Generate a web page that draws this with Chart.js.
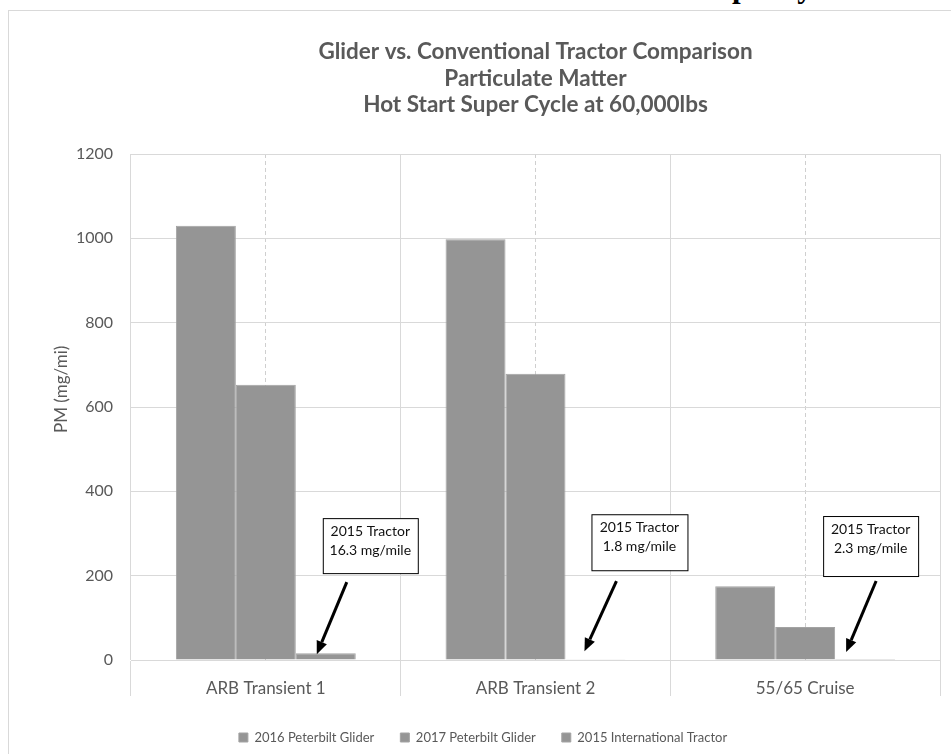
<!DOCTYPE html>
<html>
<head>
<meta charset="utf-8">
<title>Glider vs. Conventional Tractor - PM</title>
<script src="https://cdn.jsdelivr.net/npm/chart.js@4.4.0/dist/chart.umd.min.js"></script>
<style>
  html, body { margin: 0; padding: 0; background: #fff; overflow: hidden; }
  #wrap { position: relative; width: 951px; height: 754px; overflow: hidden; }
  #frame { position: absolute; left: 8px; top: 10px; width: 960px; height: 760px; border: 1px solid #d9d9d9; box-sizing: border-box; }
  #cut { position: absolute; left: 0; top: -30px; }
  canvas { position: absolute; left: 0; top: 0; }
</style>
</head>
<body>
<div id="wrap">
  <svg id="cut" width="951" height="40"><text x="694" y="27" font-family="Liberation Serif" font-weight="bold" font-size="31" fill="#000">Capacity</text></svg>
  <div id="frame"></div>
  <canvas id="pm-chart" width="951" height="754"></canvas>
</div>
<script>
// data
const categories = ['ARB Transient 1', 'ARB Transient 2', '55/65 Cruise'];
const seriesNames = ['2016 Peterbilt Glider', '2017 Peterbilt Glider', '2015 International Tractor'];
const glider2016 = [1030, 998, 175];
const glider2017 = [653, 679, 78];
const tractor2015 = [16.3, 1.8, 2.3];
const yTicks = [0, 200, 400, 600, 800, 1000, 1200];
const titleLines = [
  'Glider vs. Conventional Tractor Comparison',
  'Particulate Matter',
  'Hot Start Super Cycle at 60,000lbs'
];
const yTitle = 'PM (mg/mi)';
const noteTitle = '2015 Tractor';

// where each callout sits, relative to the top of the 2015 tractor bar
const noteLayout = [
  { box: [-3, -135, 95, 55], from: [21, -71], to: [-9, 1] },
  { box: [-4, -145, 96, 56], from: [21, -78], to: [-11, -8] },
  { box: [-42, -143, 95, 60], from: [11, -78], to: [-19, -7] }
];

const gray = '#959595';
const textGray = '#595959';
const gridGray = '#d9d9d9';

Chart.defaults.font.family = 'Lato';

// title centred over the plot area, plus the y axis title
const titlePlugin = {
  id: 'pmTitle',
  afterDraw(chart) {
    const ctx = chart.ctx;
    const a = chart.chartArea;
    ctx.save();
    ctx.font = 'bold 22.5px Lato';
    ctx.fillStyle = textGray;
    ctx.textAlign = 'center';
    ctx.textBaseline = 'alphabetic';
    titleLines.forEach((t, i) => ctx.fillText(t, (a.left + a.right) / 2, 59 + i * 26.5));

    ctx.font = '17px Lato';
    ctx.textBaseline = 'middle';
    ctx.translate(62, a.top + (a.bottom - a.top) * 0.465);
    ctx.rotate(-Math.PI / 2);
    ctx.fillText(yTitle, 0, 0);
    ctx.restore();
  }
};

// callout boxes with arrows
const notePlugin = {
  id: 'pmNotes',
  afterDatasetsDraw(chart) {
    const ctx = chart.ctx;
    const meta = chart.getDatasetMeta(2);
    ctx.save();
    meta.data.forEach((el, i) => {
      const n = noteLayout[i];
      const bx = el.x + n.box[0], by = el.y + n.box[1];
      ctx.fillStyle = '#fff';
      ctx.fillRect(bx, by, n.box[2], n.box[3]);
      ctx.strokeStyle = '#000';
      ctx.lineWidth = 1;
      ctx.strokeRect(bx + 0.5, by + 0.5, n.box[2], n.box[3]);
      ctx.fillStyle = '#111';
      ctx.font = '14px Lato';
      ctx.textAlign = 'center';
      ctx.textBaseline = 'alphabetic';
      ctx.fillText(noteTitle, bx + n.box[2] / 2, by + 18);
      ctx.fillText(tractor2015[i] + ' mg/mile', bx + n.box[2] / 2, by + 37);

      // arrow
      const x1 = el.x + n.from[0], y1 = el.y + n.from[1];
      const x2 = el.x + n.to[0], y2 = el.y + n.to[1];
      const ang = Math.atan2(y2 - y1, x2 - x1);
      const head = 13, half = 5.5;
      const hx = x2 - head * Math.cos(ang), hy = y2 - head * Math.sin(ang);
      ctx.strokeStyle = '#000';
      ctx.lineWidth = 3;
      ctx.beginPath();
      ctx.moveTo(x1, y1);
      ctx.lineTo(hx, hy);
      ctx.stroke();
      ctx.fillStyle = '#000';
      ctx.beginPath();
      ctx.moveTo(x2, y2);
      ctx.lineTo(hx + half * Math.sin(ang), hy - half * Math.cos(ang));
      ctx.lineTo(hx - half * Math.sin(ang), hy + half * Math.cos(ang));
      ctx.closePath();
      ctx.fill();
    });
    ctx.restore();
  }
};

const seriesValues = [glider2016, glider2017, tractor2015];

new Chart(document.getElementById('pm-chart'), {
  type: 'bar',
  data: {
    labels: categories,
    datasets: seriesNames.map((name, i) => ({
      label: name,
      data: seriesValues[i],
      backgroundColor: gray,
      borderColor: '#a3a3a3',
      borderWidth: 1,
      categoryPercentage: 0.667,
      barPercentage: 1
    }))
  },
  options: {
    responsive: false,
    animation: false,
    devicePixelRatio: 1,
    layout: { padding: { left: 26, right: 11, top: 154, bottom: 0 } },
    plugins: {
      title: { display: false },
      tooltip: { enabled: false },
      legend: {
        position: 'bottom',
        labels: {
          boxWidth: 9,
          boxHeight: 9,
          padding: 26,
          color: textGray,
          font: { family: 'Lato', size: 13 }
        }
      }
    },
    scales: {
      x: {
        offset: true,
        grid: { offset: true, color: gridGray, lineWidth: 1, drawTicks: true, tickLength: 36 },
        border: { display: true, color: gridGray },
        ticks: { color: textGray, font: { family: 'Lato', size: 17 }, padding: -18, maxRotation: 0 },
        afterFit: s => { s.height = 45; }
      },
      xMid: {
        type: 'category',
        labels: categories,
        position: 'bottom',
        offset: true,
        grid: { offset: false, color: '#cfcfcf', lineWidth: 1, drawTicks: false },
        border: { display: false, dash: [4, 3] },
        ticks: { display: false },
        afterFit: s => { s.height = 0; }
      },
      y: {
        min: 0,
        max: 1200,
        afterBuildTicks: s => { s.ticks = yTicks.map(v => ({ value: v })); },
        grid: { color: gridGray, drawTicks: false },
        border: { display: false },
        ticks: { color: textGray, font: { family: 'Lato', size: 16 }, padding: 18, callback: v => String(v) },
        afterFit: s => { s.width = 105; }
      }
    }
  },
  plugins: [titlePlugin, notePlugin]
});
</script>
</body>
</html>
